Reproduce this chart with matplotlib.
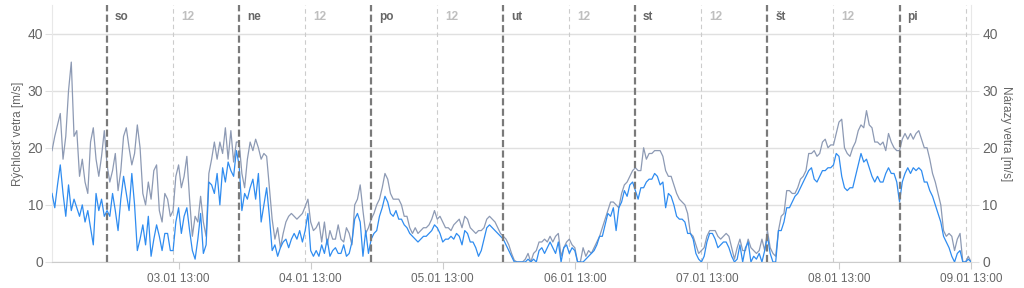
import numpy as np
import pandas as pd
import matplotlib
matplotlib.use("Agg")
import matplotlib.pyplot as plt
import matplotlib.dates as mdates
import matplotlib.transforms as mtransforms

plt.rcParams['font.family'] = ['Liberation Sans', 'DejaVu Sans']

# Half-hourly readings, 02.01 14:00 -> 09.01 13:00
start_time = "2026-01-02 14:00"

gust = [
    19.5, 22, 24, 26, 18, 22, 30, 35, 22, 23, 15, 18, 14, 12, 21, 23.5, 18, 15, 18.5, 23,
    17, 14, 16, 19, 12.5, 16, 22, 23.5, 20, 17, 19, 24, 20, 12, 10, 14, 11, 16, 17, 9, 7, 12, 11, 8,
    9, 15, 17, 13, 15, 18.5, 11, 4.5, 8, 7, 11.5, 7, 4.5, 15.5, 18, 21, 18, 21, 19, 23.5, 18, 23, 17.5, 21,
    21, 15.5, 13, 18, 21, 19.5, 21.5, 20, 18, 19, 18.5, 13, 7.5, 4, 6, 2.5, 5, 7, 8, 8.5, 8, 7.5, 8, 8.5,
    9.7, 11, 7, 5.5, 6, 7, 3.5, 7, 3, 5.5, 4, 4, 6.5, 4, 3.5, 6, 5, 3, 10, 11, 13.5, 9, 5, 6,
    7.5, 8.5, 10, 11, 13, 15.5, 14.5, 12, 11, 11, 11, 10, 8, 8, 6, 5,
    6, 5, 5.5, 6, 6, 6.5, 7.5, 9, 7.5, 8, 7, 6, 6, 5.5, 6.5, 7, 7.5, 6, 8, 7.5,
    6, 5.5, 5, 5.5, 5.5, 6, 7.5, 8, 7.5, 7, 6, 5, 4.5, 4, 3, 1.5, 0.3, 0, 0, 0, 0.5, 1.5, 0, 1.5,
    2, 3.5, 3.5, 4, 3.5, 4.5, 3.5, 4.5, 5, 1, 2.5, 3.5, 4, 3, 2.5, 0, 0, 2.5, 1, 2,
    1.5, 2.5, 3.5, 4.5, 6, 7.5, 9, 10.5, 10.5, 10, 9.5, 12, 13.5, 14, 15, 16, 16.5, 16, 16, 20, 18, 19, 19, 19.5,
    19.5, 19.5, 18.5, 16, 15, 15, 13.5, 12, 11, 10.5, 10, 8.5, 5, 4.5, 3, 1.5, 2, 2.5, 4.5, 5.5,
    5.5, 5.5, 4.5, 4, 4.5, 5, 4.5, 2.5, 0.5, 2.5, 4, 2, 2, 4, 2.5, 2, 1.5, 2, 4, 2, 5.5, 2.5, 1.5, 1,
    5.5, 8, 8.5, 12.5, 12.5, 12, 12, 13, 14.5, 15, 16, 19, 19, 19.5, 18.5, 19, 21, 21.5, 20, 20.5,
    20.5, 22.5, 24.5, 25, 20, 19, 18.5, 20, 21, 23, 24, 23.5, 26.5, 24, 23.5, 21, 21, 20.5, 21, 19.5, 22.5, 21, 20, 19.5,
    19.5, 21.5, 22.5, 21.5, 22.5, 21.5, 22.5, 23, 21.5, 20, 20, 18, 15.5, 14, 12, 10, 5.5, 4.5, 5, 4.5, 2, 4, 5, 0, 0, 1, 0,
]

speed = [
    12, 9.5, 13.5, 17, 12, 8, 13.5, 9, 11, 9.5, 8, 10, 7, 9, 6, 3, 12, 9, 11, 8,
    9, 8, 12, 9, 5.5, 11, 15, 12, 9, 15.5, 10, 2, 4, 6.5, 3, 8, 1, 4, 6.5, 4.5, 2, 5, 5, 2,
    2, 7, 9.5, 5, 8, 9.5, 5.5, 2, 0.5, 4, 8.5, 1.5, 3, 14, 13.5, 12, 15.5, 10, 16.5, 14, 17.5, 16, 15, 19.5,
    17, 9, 12, 11, 13, 14.5, 11, 15.5, 7, 10, 13, 8, 2, 3, 1, 2.5, 3.5, 4, 2.5, 4, 5, 4, 5.5, 3.5,
    5.5, 8.5, 2, 1, 2, 1, 3, 1.5, 4, 1, 2, 2.5, 1.5, 1.5, 3, 1, 1.5, 3.5, 7.5, 8.5, 7, 1, 5.5, 1.5,
    4, 5, 5.5, 8, 9.5, 11.5, 10.5, 8.5, 8, 9, 7.5, 7.5, 6.5, 6, 5, 4.5,
    4, 3.5, 4, 4.5, 4.5, 5, 5.5, 6.5, 6, 5, 3.5, 4, 4, 4.5, 4, 5, 4.5, 3, 5.5, 5,
    3.5, 3.5, 2.5, 1, 2, 4, 6, 6.5, 6, 5.5, 5, 4.5, 4, 3, 2, 1, 0, 0, 0, 0, 0, 0.5, 0, 0.5,
    0, 2, 2.5, 1.5, 2.5, 3.5, 2.5, 1.5, 3.5, 0, 2.5, 3, 1.5, 2.5, 2, 0, 0, 0, 0.5, 1,
    1.5, 2, 3, 4.5, 4.5, 6.5, 8.5, 8, 9.5, 5.5, 9.5, 10.5, 12.5, 11.5, 13.5, 14, 12.5, 11, 13, 13, 14, 14.5, 14.5, 15.5,
    15, 13.5, 14, 9.5, 12, 11.5, 10, 8, 7.5, 7.5, 7, 5, 5, 4, 1.5, 0.5, 0, 1, 3.5, 5,
    5, 4, 2.5, 3, 3.5, 3.5, 2.5, 1, 0, 0.5, 3, 0, 2.5, 3.5, 0, 1, 0.5, 1.5, 0, 2, 4.5, 1.5, 0, 0,
    5.5, 5.5, 7, 9.5, 9.5, 10.5, 11.5, 12, 13, 14, 15, 16, 16.5, 14.5, 14, 15, 16, 16, 16.5, 16.5,
    17, 19, 18.5, 15, 13, 12.5, 13, 13, 15, 17, 19, 17.5, 18, 16.5, 15, 14, 15, 14, 14, 15.5, 16.5, 15.5, 15.5, 14,
    10.5, 14, 15.5, 16.5, 15.5, 16.5, 16, 16.5, 16, 14, 14, 12.5, 11.5, 10, 8.5, 7, 4.5, 3.5, 2.5, 1, 0, 1.5, 2, 0, 0, 0.5, 0,
]

day_labels = ["so", "ne", "po", "ut", "st", "št", "pi"]
y_ticks = [0, 10, 20, 30, 40]

times = pd.date_range(start_time, periods=len(speed), freq="30min")
midnights = pd.date_range("2026-01-03", periods=len(day_labels), freq="D")
noons = midnights + pd.Timedelta(hours=12)
tick_times = midnights + pd.Timedelta(hours=13)

fig = plt.figure(figsize=(10.24, 2.88), dpi=100)
ax = fig.add_axes([0.0508, 0.0903, 0.8975, 0.8924])

ax.plot(times, gust, color="#8d9ab4", lw=0.9, zorder=3)
ax.plot(times, speed, color="#2f8cf0", lw=0.9, zorder=4)

# day separators and noon markers
trans = mtransforms.blended_transform_factory(ax.transData, ax.transAxes)
for m, lab in zip(midnights, day_labels):
    ax.axvline(m, color="#7a7a7a", lw=1.6, ls=(0, (3.2, 1.5)), zorder=5)
    ax.text(m + pd.Timedelta(hours=1.4), 0.953, lab, transform=trans, fontsize=8.5,
            fontweight="bold", color="#666666", va="center", ha="left")
for n in noons:
    ax.axvline(n, color="#cccccc", lw=0.8, ls=(0, (4, 3)), zorder=2)
    # last noon label falls outside the plot in the original
    if n + pd.Timedelta(hours=3) < times[-1]:
        ax.text(n + pd.Timedelta(hours=1.5), 0.953, "12", transform=trans, fontsize=8.5,
                fontweight="bold", color="#bfbfbf", va="center", ha="left")

ax.set_xlim(times[0], times[-1])
ax.set_ylim(0, 45)
ax.set_yticks(y_ticks)
ax.set_xticks(tick_times)
ax.xaxis.set_major_formatter(mdates.DateFormatter("%d.%m %H:%M"))
ax.grid(axis="y", color="#e0e0e0", lw=1.0, zorder=1)

ax.spines["top"].set_visible(False)
ax.spines["left"].set_color("#e8e8e8")
ax.spines["right"].set_color("#e8e8e8")
ax.spines["bottom"].set_color("#cccccc")

ax.tick_params(axis="x", colors="#cccccc", length=5, labelcolor="#666666", labelsize=8.5, pad=3)
ax.tick_params(axis="y", colors="#e0e0e0", length=5, labelcolor="#666666", labelsize=10, pad=1.5)

ax.set_ylabel("Rýchlosť vetra [m/s]", fontsize=8.5, color="#666666")
ax.yaxis.set_label_coords(-0.031, 0.5)

ax2 = ax.twinx()
ax2.set_ylim(0, 45)
ax2.set_yticks(y_ticks)
for side in ["top", "left", "bottom", "right"]:
    ax2.spines[side].set_visible(False)
ax2.tick_params(axis="y", colors="#e0e0e0", length=6, labelcolor="#666666", labelsize=10, pad=2)
ax2.set_ylabel("Nárazy vetra [m/s]", fontsize=8.5, color="#666666", rotation=270, va="bottom")
ax2.yaxis.set_label_coords(1.032, 0.5)

fig.savefig("out.png", dpi=100)
